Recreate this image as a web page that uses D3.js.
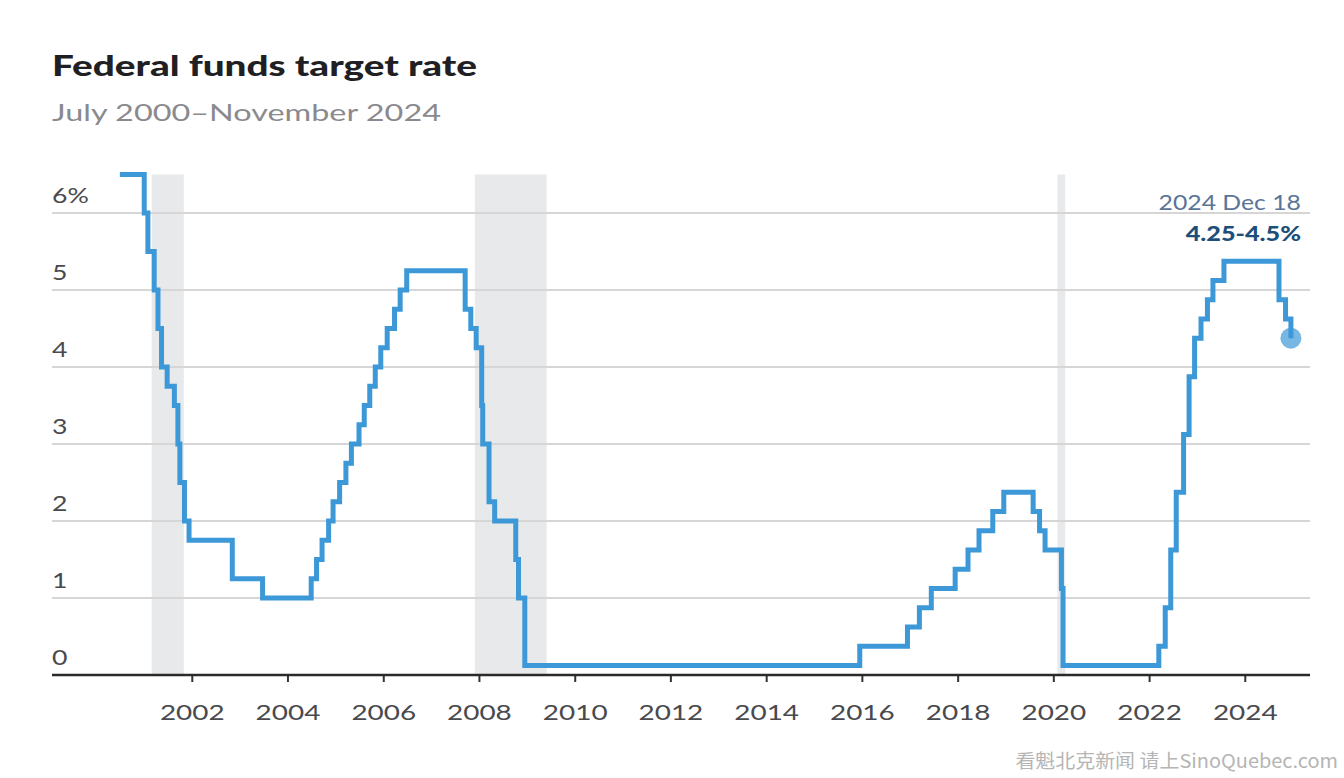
<!DOCTYPE html>
<html><head><meta charset="utf-8">
<script src="https://cdn.jsdelivr.net/npm/d3@7"></script>
<style>
html,body{margin:0;padding:0;background:#fff;}
svg{display:block;font-family:Lato,"Open Sans",sans-serif;}
</style></head>
<body><svg id="c" width="1344" height="778"></svg>
<script>
// Change dates (target rate; upper bound before Dec 2008, range midpoint after)
const changeDates = ["2000-07-01","2001-01-03","2001-01-31","2001-03-20","2001-04-18","2001-05-15","2001-06-27","2001-08-21","2001-09-17","2001-10-02","2001-11-06","2001-12-11","2002-11-06","2003-06-25","2004-06-30","2004-08-10","2004-09-21","2004-11-10","2004-12-14","2005-02-02","2005-03-22","2005-05-03","2005-06-30","2005-08-09","2005-09-20","2005-11-01","2005-12-13","2006-01-31","2006-03-28","2006-05-10","2006-06-29","2007-09-18","2007-10-31","2007-12-11","2008-01-22","2008-01-30","2008-03-18","2008-04-30","2008-10-08","2008-10-29","2008-12-16","2015-12-16","2016-12-14","2017-03-15","2017-06-14","2017-12-13","2018-03-21","2018-06-13","2018-09-26","2018-12-19","2019-07-31","2019-09-18","2019-10-30","2020-03-03","2020-03-15","2022-03-16","2022-05-04","2022-06-15","2022-07-27","2022-09-21","2022-11-02","2022-12-14","2023-02-01","2023-03-22","2023-05-03","2023-07-26","2024-09-18","2024-11-07","2024-12-18"];
const targetRates = [6.5,6.0,5.5,5.0,4.5,4.0,3.75,3.5,3.0,2.5,2.0,1.75,1.25,1.0,1.25,1.5,1.75,2.0,2.25,2.5,2.75,3.0,3.25,3.5,3.75,4.0,4.25,4.5,4.75,5.0,5.25,4.75,4.5,4.25,3.5,3.0,2.25,2.0,1.5,1.0,0.125,0.375,0.625,0.875,1.125,1.375,1.625,1.875,2.125,2.375,2.125,1.875,1.625,1.125,0.125,0.375,0.875,1.625,2.375,3.125,3.875,4.375,4.625,4.875,5.125,5.375,4.875,4.625,4.375];
const recessionStarts = ["2001-03-01","2007-12-01","2020-02-01"];
const recessionEnds = ["2001-11-01","2009-06-01","2020-04-01"];
const yTicks = [0,1,2,3,4,5,6];
const yTickLabels = ["0","1","2","3","4","5","6%"];
const xTickYears = [2002,2004,2006,2008,2010,2012,2014,2016,2018,2020,2022,2024];
const titleText = "Federal funds target rate";
const subtitleText = "July 2000–November 2024";
const endLabelDate = "2024 Dec 18";
const endLabelValue = "4.25-4.5%";
const watermark = "看魁北克新闻 请上SinoQuebec.com";

const parse = d3.timeParse("%Y-%m-%d");
const svg = d3.select("#c");
const x = d3.scaleTime().domain([new Date(2000,0,1), new Date(2025,0,1)]).range([96, 96+25*47.87]);
const y = d3.scaleLinear().domain([0,6]).range([675,213]);
const left = 52, right = 1310;

function stext(px, py, sx, anchor){
  return svg.append("text").attr("transform",`translate(${px},${py}) scale(${sx},1)`)
    .attr("text-anchor",anchor||"start");
}

stext(52,76,1.38).attr("font-size",28).attr("font-weight",900)
  .attr("fill","#1f1f24").text(titleText);
stext(52,121,1.35).attr("font-size",24).attr("fill","#8a8a8e").text(subtitleText);

// recessions
svg.append("g").selectAll("rect").data(recessionStarts).join("rect")
  .attr("x",(d)=>x(parse(d)))
  .attr("width",(d,i)=>x(parse(recessionEnds[i]))-x(parse(d)))
  .attr("y",y(6.5)).attr("height",y(0)-y(6.5)).attr("fill","#e8e9eb");

// gridlines
svg.append("g").selectAll("line").data(yTicks.filter(d=>d>0)).join("line")
  .attr("x1",left).attr("x2",right).attr("y1",d=>y(d)).attr("y2",d=>y(d))
  .attr("stroke","#d6d6d6").attr("stroke-width",2);
svg.append("g").selectAll("text").data(yTicks).join("text")
  .attr("transform",d=>`translate(${left},${y(d)-10}) scale(1.27,1)`)
  .attr("font-size",21).attr("fill","#4a4a4e")
  .text((d,i)=>yTickLabels[i]);

// x axis
const xAxis = d3.axisBottom(x).tickValues(xTickYears.map(yr=>new Date(yr,0,1)))
  .tickFormat(d3.timeFormat("%Y")).tickSize(7).tickSizeOuter(0);
const gx = svg.append("g").attr("transform",`translate(0,${y(0)})`).call(xAxis);
gx.select(".domain").remove();
gx.selectAll(".tick line").attr("stroke","#333").attr("stroke-width",2);
gx.selectAll(".tick text").attr("font-size",21).attr("fill","#4a4a4e").attr("dy",0).attr("y",45)
  .attr("transform","scale(1.33,1)").attr("font-family","Lato, sans-serif");
svg.append("line").attr("x1",left).attr("x2",right).attr("y1",y(0)).attr("y2",y(0))
  .attr("stroke","#2a2a2a").attr("stroke-width",2.5);

// line
const pts = changeDates.map((d,i)=>[parse(d),targetRates[i]]);
const line = d3.line().x(d=>x(d[0])).y(d=>y(d[1])).curve(d3.curveStepAfter);
svg.append("path").datum(pts).attr("d",line).attr("fill","none")
  .attr("stroke","#3d98d8").attr("stroke-width",5).attr("stroke-linejoin","miter");

const last = pts[pts.length-1];
svg.append("circle").attr("cx",x(last[0])).attr("cy",y(last[1])).attr("r",10.5)
  .attr("fill","#3d98d8").attr("fill-opacity",0.7);

stext(1301,210,1.18,"end").attr("font-size",21).attr("fill","#5a7597").text(endLabelDate);
stext(1301,241,1.2,"end").attr("font-size",21).attr("font-weight",900).attr("fill","#1d4f7a").text(endLabelValue);

stext(1338,768,1.05,"end").attr("font-size",19)
  .attr("fill","#b5b5b5").attr("font-family","'Noto Sans CJK SC', 'Noto Sans', sans-serif").text(watermark);
</script></body></html>
